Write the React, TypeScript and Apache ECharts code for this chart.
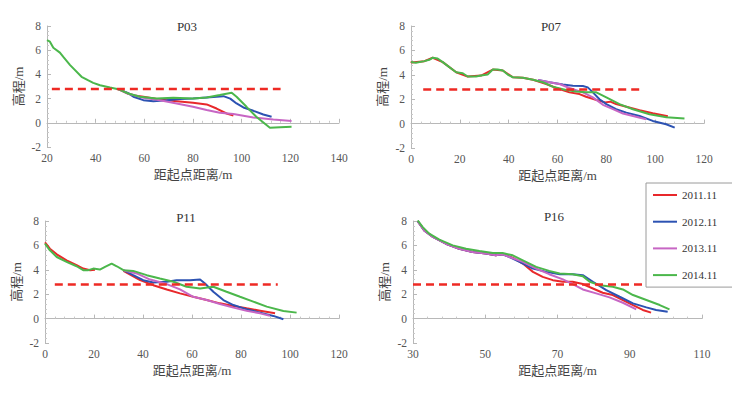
import React, { useEffect, useRef } from "react";
import * as echarts from "echarts";

const seriesNames = ["2011.11", "2012.11", "2013.11", "2014.11"];
const colors = ["#e8282b", "#2c52b2", "#c766c4", "#4bb74b"];
const panelTitles = ["P03", "P07", "P11", "P16"];
const xMins = [20, 0, 0, 30];
const xMaxs = [140, 120, 120, 110];
const yTicks = [-2, 0, 2, 4, 6, 8];
const levelY = 2.8;
const levelRanges = [[22, 116], [5, 94], [4, 95], [30, 94]];

// P03
const p03Red = [[49.3, 2.78], [53.4, 2.4], [56, 2.25], [59.6, 2.15], [66.4, 1.93], [73.3, 1.79], [80, 1.65], [85.6, 1.52], [89.7, 1.18], [93.8, 0.77], [96.6, 0.6]];
const p03Blue = [[49.3, 2.78], [53.4, 2.45], [55.5, 2.15], [59.6, 1.87], [63.7, 1.79], [69.2, 1.87], [74.7, 1.96], [80, 2.0], [85.6, 2.1], [92.5, 2.2], [95.3, 2.0], [97.9, 1.6], [100.7, 1.27], [104.8, 0.99], [108.9, 0.69], [112.3, 0.5]];
const p03Magenta = [[49.3, 2.78], [53.4, 2.4], [59.6, 2.07], [66.4, 1.87], [73.3, 1.6], [80, 1.32], [85.6, 1.05], [91, 0.83], [96.6, 0.72], [104.8, 0.44], [113, 0.28], [120.5, 0.14]];
const p03Green = [[20, 6.83], [21.2, 6.7], [22.6, 6.2], [25.3, 5.8], [26.7, 5.45], [29.5, 4.77], [34.2, 3.8], [37, 3.5], [39, 3.3], [41.8, 3.1], [45.9, 2.92], [49.3, 2.78], [53.4, 2.42], [58.2, 2.15], [65, 2.0], [71.9, 2.07], [80, 2.0], [85.6, 2.1], [91, 2.29], [95.9, 2.48], [97.9, 2.15], [102, 1.32], [106, 0.5], [111.6, -0.41], [115.8, -0.36], [120.5, -0.33]];

// P07
const p07Red = [[0, 5.1], [0.3, 5.0], [5.5, 5.12], [8.9, 5.4], [13, 5.04], [18.5, 4.21], [23.2, 3.86], [28.7, 3.94], [33.5, 4.43], [37.6, 4.35], [41.7, 3.8], [45.8, 3.75], [50, 3.6], [55.4, 3.25], [59.5, 2.92], [64.9, 2.56], [69, 2.42], [71.7, 2.2], [76, 1.93], [79.5, 1.74], [81.6, 1.8], [84, 1.6], [88.2, 1.38], [93.6, 1.1], [99, 0.85], [105.2, 0.6]];
const p07Blue = [[52, 3.58], [56.7, 3.39], [62.2, 3.2], [66.3, 3.11], [70.4, 3.08], [72.4, 2.97], [74.5, 2.56], [77.2, 2.0], [80, 1.6], [84, 1.18], [88.2, 0.9], [93.6, 0.63], [99, 0.22], [104.5, -0.05], [108, -0.33]];
const p07Magenta = [[52, 3.58], [56.7, 3.39], [60.8, 3.25], [64.9, 2.92], [70.4, 2.56], [74.5, 2.15], [78.6, 1.54], [82.7, 1.18], [86.8, 0.83], [90.9, 0.63], [96.3, 0.36]];
const p07Green = [[0, 5.04], [2, 4.99], [5.5, 5.12], [7.5, 5.23], [8.9, 5.4], [10.9, 5.34], [13, 5.04], [15.7, 4.63], [18.5, 4.21], [21.2, 4.13], [23.2, 3.86], [26.6, 3.86], [28.7, 3.94], [31.4, 4.02], [33.5, 4.43], [35.5, 4.43], [37.6, 4.35], [39.6, 4.02], [41.7, 3.8], [45.8, 3.75], [50, 3.6], [54, 3.39], [58, 3.03], [63.5, 2.75], [67.6, 2.64], [71.7, 2.56], [75.9, 2.56], [80, 2.15], [85.4, 1.6], [90.9, 1.18], [97.7, 0.77], [104.6, 0.52], [112, 0.42]];

// P11
const p11Red = [[0, 6.25], [2, 5.73], [4.8, 5.27], [8.8, 4.78], [12.9, 4.38], [15.6, 4.1], [18.4, 3.97], [20.4, 4.0]];
const p11Red2 = [[32, 3.91], [38.8, 3.15], [44.2, 2.74], [49.7, 2.39], [55.1, 2.07], [60.5, 1.79], [66, 1.52], [71.4, 1.25], [76.9, 1.03], [82.3, 0.84], [87.8, 0.65], [93.9, 0.43]];
const p11Blue = [[32, 3.97], [36, 3.56], [40.1, 3.15], [44.2, 2.96], [49.7, 3.02], [53.7, 3.15], [59.2, 3.15], [63.3, 3.2], [65.3, 2.88], [68.7, 2.2], [72.8, 1.52], [76.9, 1.11], [82.3, 0.76], [87.8, 0.49], [93.2, 0.22], [97.3, -0.05]];
const p11Magenta = [[32, 3.97], [37.4, 3.7], [42.9, 3.2], [49.7, 2.83], [55.1, 2.39], [60.5, 1.79], [66, 1.52], [71.4, 1.2], [76.9, 0.9], [82.3, 0.65], [87.8, 0.43], [91.8, 0.24]];
const p11Green = [[0, 6.14], [2, 5.6], [4.8, 5.05], [8.8, 4.65], [12.9, 4.29], [15.6, 3.97], [17.7, 3.97], [19.7, 4.1], [22.4, 4.02], [24.5, 4.24], [27.2, 4.51], [29.3, 4.29], [32, 3.97], [36, 3.91], [41.5, 3.56], [46.9, 3.29], [52.4, 3.02], [57.8, 2.61], [63.3, 2.47], [68.7, 2.61], [74.1, 2.2], [79.6, 1.79], [85, 1.39], [90.5, 0.98], [97.3, 0.63], [102.7, 0.49]];

// P16
const p16Red = [[31.3, 7.99], [33.1, 7.23], [35.5, 6.69], [39.1, 6.14], [42.8, 5.73], [46.5, 5.46], [50.2, 5.33], [52.9, 5.19], [54.8, 5.27], [57.6, 5.0], [60.4, 4.51], [63.2, 3.83], [65.9, 3.42], [68.7, 3.15], [71.5, 3.02], [74.2, 3.02], [77, 2.83], [79.8, 2.47], [82.5, 2.12], [85.3, 1.93], [88.1, 1.52], [90.9, 1.11], [93.6, 0.71], [95.9, 0.49]];
const p16Blue = [[31.3, 7.99], [33.1, 7.23], [35.5, 6.69], [39.1, 6.14], [42.8, 5.73], [46.5, 5.46], [50.2, 5.33], [52.9, 5.19], [54.8, 5.27], [56.7, 5.05], [59.5, 4.65], [63.2, 4.1], [66.9, 3.83], [70.6, 3.64], [74.2, 3.64], [77, 3.56], [79.8, 3.02], [83.5, 2.34], [87.2, 1.79], [90.9, 1.25], [94.6, 0.92], [97.3, 0.71], [100.5, 0.57]];
const p16Magenta = [[31.3, 7.99], [33.1, 7.23], [35.5, 6.69], [39.1, 6.14], [42.8, 5.73], [46.5, 5.46], [50.2, 5.33], [52.9, 5.19], [54.8, 5.27], [56.7, 5.05], [60.4, 4.65], [64.1, 4.1], [67.7, 3.64], [71.5, 3.21], [74.2, 2.83], [77, 2.39], [80.7, 2.07], [84.4, 1.74], [88.1, 1.3], [91.8, 0.76]];
const p16Green = [[31.3, 8.04], [32.7, 7.5], [34.5, 6.96], [37.3, 6.47], [41, 6.0], [44.7, 5.73], [48.4, 5.54], [52.1, 5.38], [54.8, 5.38], [57.6, 5.19], [60.4, 4.78], [64.1, 4.24], [67.7, 3.91], [70.6, 3.7], [74.2, 3.64], [77, 3.48], [78.9, 3.02], [81.6, 2.74], [85.3, 2.61], [88.1, 2.39], [90.9, 1.93], [94.6, 1.52], [98.3, 1.11], [101, 0.76]];

const panelData = [
  [[p03Red], [p03Blue], [p03Magenta], [p03Green]],
  [[p07Red], [p07Blue], [p07Magenta], [p07Green]],
  [[p11Red, p11Red2], [p11Blue], [p11Magenta], [p11Green]],
  [[p16Red], [p16Blue], [p16Magenta], [p16Green]],
];

const grids = [
  { left: 47, top: 26, width: 292, height: 121 },
  { left: 411, top: 26, width: 293, height: 122 },
  { left: 45, top: 221, width: 294, height: 122 },
  { left: 413, top: 221, width: 289, height: 122 },
];
const titlePos = [[182, 15], [546, 15], [181, 206], [549, 205]];

const serif = "Liberation Serif";
const cjk = "Liberation Serif, Noto Sans CJK SC";

export default function App() {
  const ref = useRef<HTMLDivElement>(null);
  useEffect(() => {
    if (!ref.current) return;
    const chart = echarts.init(ref.current, null, { renderer: "svg" });
    const axisLine = { lineStyle: { color: "#b8b8b8", width: 1 } };
    const series: any[] = [];
    panelData.forEach((panel, p) => {
      panel.forEach((parts, s) => {
        parts.forEach((d) => {
          series.push({
            name: seriesNames[s],
            type: "line",
            xAxisIndex: p,
            yAxisIndex: p,
            data: d,
            showSymbol: false,
            symbol: "none",
            lineStyle: { color: colors[s], width: 2 },
            itemStyle: { color: colors[s] },
            z: 2 + s,
          });
        });
      });
      series.push({
        type: "line",
        xAxisIndex: p,
        yAxisIndex: p,
        data: [[levelRanges[p][0], levelY], [levelRanges[p][1], levelY]],
        symbol: "none",
        lineStyle: { color: "#ee2a24", width: 2.5, type: [8, 5] },
        z: 10,
      });
    });
    chart.setOption({
      animation: false,
      backgroundColor: "#ffffff",
      title: panelTitles.map((t, i) => ({
        text: t,
        left: titlePos[i][0],
        top: titlePos[i][1],
        textAlign: "center",
        textStyle: { fontFamily: serif, fontSize: 13, fontWeight: "normal", color: "#333" },
      })),
      grid: grids.map((g) => ({ ...g, containLabel: false })),
      legend: {
        data: seriesNames,
        orient: "vertical",
        left: 646,
        top: 183,
        itemWidth: 24,
        itemHeight: 2,
        itemGap: 12.7,
        icon: "rect",
        padding: [5, 40, 5, 7],
        borderColor: "#9a9a9a",
        borderWidth: 1,
        textStyle: { fontFamily: serif, fontSize: 11, color: "#333", lineHeight: 14 },
      },
      xAxis: grids.map((_, i) => ({
        type: "value",
        gridIndex: i,
        min: xMins[i],
        max: xMaxs[i],
        interval: 20,
        name: "距起点距离/m",
        nameLocation: "middle",
        nameGap: 21,
        nameTextStyle: { fontFamily: cjk, fontSize: 13, color: "#444" },
        axisLine,
        axisTick: { show: true, inside: true, length: 4, lineStyle: { color: "#b8b8b8" } },
        minorTick: { show: true, splitNumber: 5, length: 2, lineStyle: { color: "#c8c8c8" } },
        axisLabel: { fontFamily: serif, fontSize: 11.5, color: "#555", margin: 5 },
        splitLine: { show: false },
      })),
      yAxis: grids.map((_, i) => ({
        type: "value",
        gridIndex: i,
        min: yTicks[0],
        max: yTicks[yTicks.length - 1],
        interval: 2,
        name: "高程/m",
        nameLocation: "middle",
        nameGap: 22,
        nameTextStyle: { fontFamily: cjk, fontSize: 13, color: "#444" },
        axisLine: { show: true, ...axisLine },
        axisTick: { show: true, inside: true, length: 4, lineStyle: { color: "#b8b8b8" } },
        minorTick: { show: true, splitNumber: 5, length: 2, lineStyle: { color: "#c8c8c8" } },
        axisLabel: { fontFamily: serif, fontSize: 11.5, color: "#555", margin: 6 },
        splitLine: { show: false },
      })),
      series,
    });
    return () => chart.dispose();
  }, []);
  return (
    <div
      ref={ref}
      style={{ position: "fixed", left: 0, top: 0, width: 732, height: 399, background: "#fff" }}
    />
  );
}
